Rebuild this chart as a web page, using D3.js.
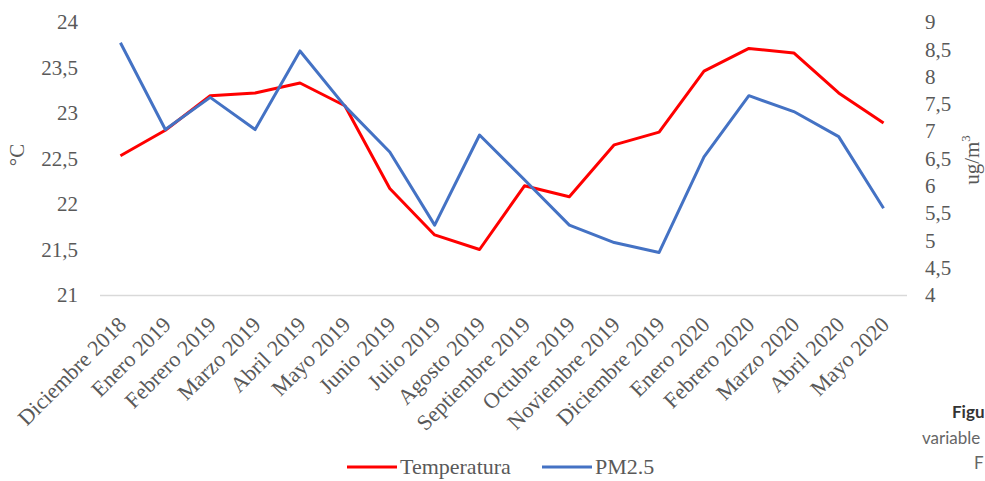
<!DOCTYPE html>
<html>
<head>
<meta charset="utf-8">
<script src="https://cdn.jsdelivr.net/npm/d3@7"></script>
<style>
  html, body { margin: 0; padding: 0; background: #fff; }
  svg { display: block; }
</style>
</head>
<body>
<svg id="chart" width="985" height="481"></svg>
<script>
// Monthly averages, December 2018 – May 2020
const months = [
  "Diciembre 2018", "Enero 2019", "Febrero 2019", "Marzo 2019", "Abril 2019",
  "Mayo 2019", "Junio 2019", "Julio 2019", "Agosto 2019", "Septiembre 2019",
  "Octubre 2019", "Noviembre 2019", "Diciembre 2019", "Enero 2020",
  "Febrero 2020", "Marzo 2020", "Abril 2020", "Mayo 2020"
];
const temperatura = [
  22.53, 22.81, 23.19, 23.22, 23.33, 23.08, 22.17, 21.66, 21.50,
  22.20, 22.08, 22.65, 22.79, 23.46, 23.71, 23.66, 23.22, 22.89
];
const pm25 = [
  8.62, 7.03, 7.62, 7.03, 8.47, 7.46, 6.62, 5.28, 6.93,
  6.11, 5.28, 4.96, 4.78, 6.53, 7.65, 7.36, 6.90, 5.59
];
const leftTicks = [21, 21.5, 22, 22.5, 23, 23.5, 24];
const rightTicks = [4, 4.5, 5, 5.5, 6, 6.5, 7, 7.5, 8, 8.5, 9];

const svg = d3.select("#chart");
const serif = "'Liberation Serif', 'Times New Roman', serif";
const textColor = "#595959";
const fmt = v => String(v).replace(".", ",");

const plot = { left: 98, right: 906, top: 22, bottom: 295 };

const x = d3.scaleBand().domain(months).range([plot.left, plot.right]);
const yL = d3.scaleLinear().domain([21, 24]).range([plot.bottom, plot.top]);
const yR = d3.scaleLinear().domain([4, 9]).range([plot.bottom, plot.top]);
const cx = m => x(m) + x.bandwidth() / 2;

// Left axis (°C)
const leftAxis = svg.append("g")
  .attr("transform", `translate(${plot.left - 20},0)`)
  .call(d3.axisLeft(yL).tickValues(leftTicks).tickFormat(fmt).tickSize(0).tickPadding(0));
leftAxis.select(".domain").remove();
leftAxis.selectAll("text")
  .style("font-family", serif).style("font-size", "21px").attr("fill", textColor);

// Right axis (ug/m3)
const rightAxis = svg.append("g")
  .attr("transform", `translate(${plot.right + 19},0)`)
  .call(d3.axisRight(yR).tickValues(rightTicks).tickFormat(fmt).tickSize(0).tickPadding(0));
rightAxis.select(".domain").remove();
rightAxis.selectAll("text")
  .style("font-family", serif).style("font-size", "21px").attr("fill", textColor);

// Category axis with slanted month labels
const bottomAxis = svg.append("g")
  .attr("transform", `translate(0,${plot.bottom})`)
  .call(d3.axisBottom(x).tickSize(0).tickPadding(0));
bottomAxis.select(".domain")
  .attr("stroke", "#d9d9d9").attr("stroke-width", 1.3)
  .attr("d", `M${plot.left + 2},0.5H${plot.right + 1}`);
bottomAxis.selectAll(".tick text")
  .style("font-family", serif).style("font-size", "22px").attr("fill", textColor)
  .attr("text-anchor", "end")
  .attr("y", 0).attr("dy", 0)
  .attr("transform", "translate(7,31) rotate(-45)");

// Axis titles
svg.append("text")
  .attr("transform", "translate(24,155) rotate(-90)")
  .attr("text-anchor", "middle")
  .style("font-family", serif).style("font-size", "21px").attr("fill", textColor)
  .text("°C");

const unit = svg.append("text")
  .attr("transform", "translate(979,160) rotate(-90)")
  .attr("text-anchor", "middle")
  .style("font-family", serif).style("font-size", "21px").attr("fill", textColor);
unit.append("tspan").text("ug/m");
unit.append("tspan").style("font-size", "13px").attr("dy", -9).text("3");

// Series lines
const lineT = d3.line().x((d, i) => cx(months[i])).y(d => yL(d));
const lineP = d3.line().x((d, i) => cx(months[i])).y(d => yR(d));

svg.append("path").datum(temperatura)
  .attr("d", lineT).attr("fill", "none")
  .attr("stroke", "#ff0000").attr("stroke-width", 3).attr("stroke-linejoin", "round");
svg.append("path").datum(pm25)
  .attr("d", lineP).attr("fill", "none")
  .attr("stroke", "#4472c4").attr("stroke-width", 3).attr("stroke-linejoin", "round");

// Legend
const legend = [
  { name: "Temperatura", color: "#ff0000", x: 347 },
  { name: "PM2.5", color: "#4472c4", x: 542 }
];
legend.forEach(l => {
  svg.append("line")
    .attr("x1", l.x).attr("x2", l.x + 50).attr("y1", 467).attr("y2", 467)
    .attr("stroke", l.color).attr("stroke-width", 3);
  svg.append("text")
    .attr("x", l.x + 53).attr("y", 474)
    .style("font-family", serif).style("font-size", "22px").attr("fill", textColor)
    .text(l.name);
});

// Caption fragment at the page edge
const sans = "Lato, 'Open Sans', sans-serif";
svg.append("text").attr("x", 952).attr("y", 418)
  .style("font-family", sans).style("font-size", "17px").style("font-weight", "bold")
  .attr("fill", "#333").text("Figu");
svg.append("text").attr("x", 922).attr("y", 444)
  .style("font-family", sans).style("font-size", "17px")
  .attr("fill", "#666").text("variable");
svg.append("text").attr("x", 974).attr("y", 469)
  .style("font-family", sans).style("font-size", "17px")
  .attr("fill", "#666").text("F");
</script>
</body>
</html>
